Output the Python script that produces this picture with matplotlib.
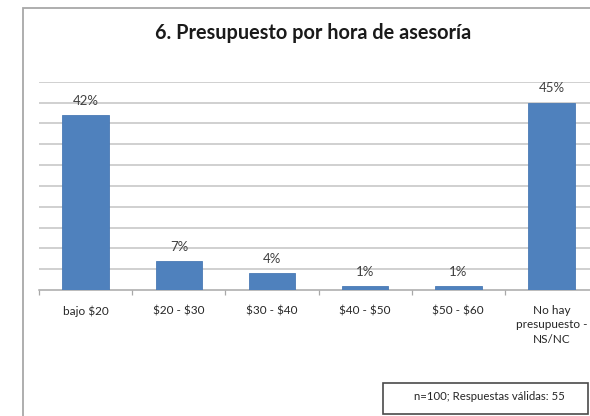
import matplotlib
matplotlib.use("Agg")
import matplotlib.pyplot as plt
from matplotlib.patches import Rectangle

categories = ["bajo \\$20", "\\$20 - \\$30", "\\$30 - \\$40", "\\$40 - \\$50", "\\$50 - \\$60",
              "No hay\npresupuesto -\nNS/NC"]
values = [42, 7, 4, 1, 1, 45]
title = "6. Presupuesto por hora de asesoría"
note = "n=100; Respuestas válidas: 55"

W, H = 590, 416
fig = plt.figure(figsize=(W / 100, H / 100), dpi=100)
fig.patch.set_facecolor("white")

def fx(px):
    return px / W

def fy(py):
    return 1 - py / H

# outer chart frame (continues past the right and bottom edges)
fig.patches.append(Rectangle((fx(22.7), fy(430)), fx(640) - fx(22.7), fy(8.3) - fy(430),
                             transform=fig.transFigure, fill=False,
                             edgecolor="#a8a8a8", linewidth=1.3, zorder=0))

# plot area
left, right, top, base = 39.2, 598.0, 81.7, 290.0
ax = fig.add_axes([fx(left), fy(base), fx(right) - fx(left), fy(top) - fy(base)])
ax.set_facecolor("none")

x = list(range(len(categories)))
bars = ax.bar(x, values, width=0.5, color="#4F81BD", edgecolor="#4A7AB5",
              linewidth=0.6, zorder=3)

ax.set_xlim(-0.5, len(categories) - 0.5)
ax.set_ylim(0, 50)
ax.set_yticks(range(5, 51, 5))
ax.yaxis.grid(True, color="#c4c4c4", linewidth=1.1, zorder=0)
ax.tick_params(axis="y", left=False, labelleft=False)

for side in ("left", "right", "top"):
    ax.spines[side].set_visible(False)
ax.spines["bottom"].set_color("#a8a8a8")
ax.spines["bottom"].set_linewidth(1.1)

# category boundary ticks and centred labels
ax.set_xticks([i - 0.5 for i in range(len(categories) + 1)])
ax.set_xticklabels([])
ax.tick_params(axis="x", which="major", length=3.5, width=0.9, color="#a8a8a8",
               direction="out")
ax.set_xticks(x, minor=True)
ax.set_xticklabels(categories, minor=True, fontsize=8.5, color="#262626",
                   family="Lato", linespacing=1.35)
ax.tick_params(axis="x", which="minor", length=0, pad=11)
for lbl in ax.get_xticklabels(minor=True):
    lbl.set_verticalalignment("top")

for b, v in zip(bars, values):
    ax.annotate(f"{v}%", (b.get_x() + b.get_width() / 2, v),
                xytext=(0, 6), textcoords="offset points",
                ha="center", va="bottom", fontsize=9.5, color="#404040",
                family="Lato", zorder=4)

fig.text(fx(313), fy(32.7), title, ha="center", va="center",
         fontsize=14.3, fontweight="bold", family="Lato", color="#1a1a1a")

# footnote box
fig.patches.append(Rectangle((fx(382.7), fy(414)), fx(588) - fx(382.7), fy(382.7) - fy(414),
                             transform=fig.transFigure, fill=True, facecolor="white",
                             edgecolor="#4a4a4a", linewidth=1.2, zorder=2))
fig.text(fx(489), fy(396), note, ha="center", va="center", fontsize=8.2,
         family="Lato", color="#262626", zorder=3)

fig.savefig("out.png", dpi=100, facecolor="white")
